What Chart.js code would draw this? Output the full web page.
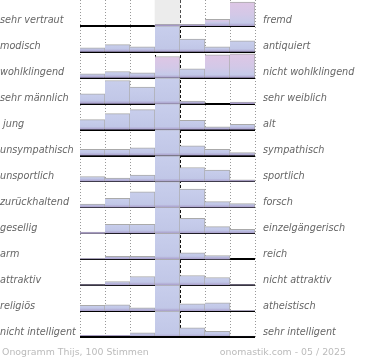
<!DOCTYPE html>
<html>
<head>
  <meta charset="UTF-8" />
  <title>Onogramm Thijs</title>
  <script src="https://cdn.jsdelivr.net/npm/chart.js"></script>
  <style>
    body { margin: 0; background: #fff; }
    #wrap { position: relative; width: 370px; height: 360px; }
    .fuss { position: absolute; top: 346px; font: 9.4px 'DejaVu Sans', sans-serif; color: #bbb; white-space: nowrap; }
  </style>
</head>
<body>
  <div id="wrap">
    <canvas id="chart" width="370" height="360"></canvas>
    <div class="fuss" style="left:2px">Onogramm Thijs, 100 Stimmen</div>
    <div class="fuss" style="right:24px">onomastik.com - 05 / 2025</div>
  </div>
<script>
// Eigenschaftspaare (links / rechts)
const links = ['sehr vertraut', 'modisch', 'wohlklingend', 'sehr männlich', ' jung', 'unsympathisch',
  'unsportlich', 'zurückhaltend', 'gesellig', 'arm', 'attraktiv', 'religiös', 'nicht intelligent'];
const rechts = ['fremd', 'antiquiert', 'nicht wohlklingend', 'sehr weiblich', 'alt', 'sympathisch',
  'sportlich', 'forsch', 'einzelgängerisch', 'reich', 'nicht attraktiv', 'atheistisch', 'sehr intelligent'];
const stufen = ['-3', '-2', '-1', '0', '1', '2', '3'];

// Balkenhöhen je Zeile (26 = volle Zeilenhöhe, Mitte ist oft abgeschnitten)
const werte = [
  [0, 0, 0, 1.7, 1.7, 6.7, 24],
  [4, 7.3, 5, 26, 12.7, 5, 11],
  [4, 6.3, 5, 21.3, 9, 23, 24],
  [10, 23.3, 16.7, 26, 2.7, 0, 1.7],
  [10, 16, 20, 26, 9.3, 2.7, 5.3],
  [6.3, 6.3, 7.7, 26, 9.7, 6.3, 3],
  [5, 3.3, 6.3, 26, 14, 11.3, 1.7],
  [3.3, 9, 15.7, 26, 18.3, 5.7, 3.7],
  [1.3, 9, 9, 26, 15, 6.7, 4],
  [1, 3, 3, 26, 6.3, 3.7, 0],
  [0.7, 3.7, 8.7, 26, 9.7, 7.7, 0.7],
  [5.7, 6.3, 3.3, 26, 7.3, 8.3, 0.7],
  [1.7, 1.7, 4.3, 26, 9.3, 5.7, 1]
];
const zeilenMax = 26;
// rosa eingefärbte Zellen [zeile, spalte]
const rosaZellen = [[0, 5], [0, 6], [2, 3], [2, 5], [2, 6]];

const n = links.length;

function istRosa(z, s) {
  return rosaZellen.some(p => p[0] === z && p[1] === s);
}

function fuellung(c) {
  const chart = c.chart;
  const y = chart.scales.y;
  const raw = c.raw;
  if (!y || !Array.isArray(raw)) return '#c3c9e8';
  const top = y.getPixelForValue(raw[1]);
  const bot = y.getPixelForValue(raw[0]);
  if (!Number.isFinite(top) || !Number.isFinite(bot)) return '#c3c9e8';
  const h = bot - top;
  if (h < 2) return '#a497c6';
  const g = chart.ctx.createLinearGradient(0, top, 0, bot);
  const s = Math.max(0, 1 - 3 / h);
  if (istRosa(c.datasetIndex, c.dataIndex)) {
    g.addColorStop(0, '#dec6e5');
    g.addColorStop(s * 0.6, '#d3c8e7');
    g.addColorStop(s, '#c5cae9');
  } else {
    g.addColorStop(0, '#c8ceec');
    g.addColorStop(s, '#c1c7e7');
  }
  g.addColorStop(1, '#a89cc9');
  return g;
}

const datasets = werte.map((zeile, i) => {
  const basis = n - 1 - i;
  return {
    label: links[i],
    data: zeile.map(v => [basis, basis + v / zeilenMax]),
    backgroundColor: fuellung,
    borderColor: '#aaaaaa',
    borderWidth: { top: 1, left: 0, right: 1, bottom: 0 },
    borderSkipped: false,
    order: 1
  };
});
// grauer Hintergrund der Mittelspalte in der ersten Zeile
datasets.push({
  label: 'mitte',
  data: stufen.map((s, j) => j === 3 ? [n - 1, n] : null),
  backgroundColor: '#ececec',
  borderWidth: 0,
  order: 20
});

const schrift = { family: 'DejaVu Sans', style: 'italic', size: 9.7 };

new Chart(document.getElementById('chart'), {
  type: 'bar',
  data: { labels: stufen, datasets: datasets },
  options: {
    responsive: false,
    animation: false,
    devicePixelRatio: 1,
    layout: { padding: { top: 0, bottom: 23, left: 0, right: 0 } },
    datasets: { bar: { grouped: false, barPercentage: 1, categoryPercentage: 1 } },
    plugins: { legend: { display: false }, tooltip: { enabled: false } },
    scales: {
      x: {
        type: 'category',
        offset: true,
        ticks: { display: false },
        border: { display: false, dash: [1, 2] },
        grid: {
          offset: true,
          drawTicks: false,
          lineWidth: 1,
          color: c => (c.index === 3 || c.index === 4) ? 'rgba(0,0,0,0)' : '#999'
        }
      },
      x2: {
        type: 'category',
        position: 'bottom',
        offset: true,
        z: 2,
        ticks: { display: false },
        border: { display: false, dash: [3, 2] },
        grid: {
          offset: true,
          drawTicks: false,
          lineWidth: 1,
          color: c => (c.index === 3 || c.index === 4) ? '#000' : 'rgba(0,0,0,0)'
        }
      },
      y: {
        type: 'linear',
        position: 'left',
        min: 0,
        max: n,
        z: 1,
        afterFit: s => { s.width = 80; s.paddingTop = 0; s.paddingBottom = 0; },
        ticks: {
          stepSize: 1,
          autoSkip: false,
          crossAlign: 'far',
          padding: 0,
          labelOffset: -5,
          color: '#666',
          font: schrift,
          callback: v => (v < n ? links[n - 1 - v] : '')
        },
        border: { display: false },
        grid: {
          drawTicks: false,
          lineWidth: 2,
          color: c => (c.tick && c.tick.value < n) ? '#000' : 'rgba(0,0,0,0)'
        }
      },
      yR: {
        type: 'linear',
        position: 'right',
        min: 0,
        max: n,
        afterFit: s => { s.width = 115; s.paddingTop = 0; s.paddingBottom = 0; },
        ticks: {
          stepSize: 1,
          autoSkip: false,
          padding: 8,
          labelOffset: -5,
          color: '#666',
          font: schrift,
          callback: v => (v < n ? rechts[n - 1 - v] : '')
        },
        border: { display: false },
        grid: { display: false, drawTicks: false }
      }
    }
  }
});
</script>
</body>
</html>
